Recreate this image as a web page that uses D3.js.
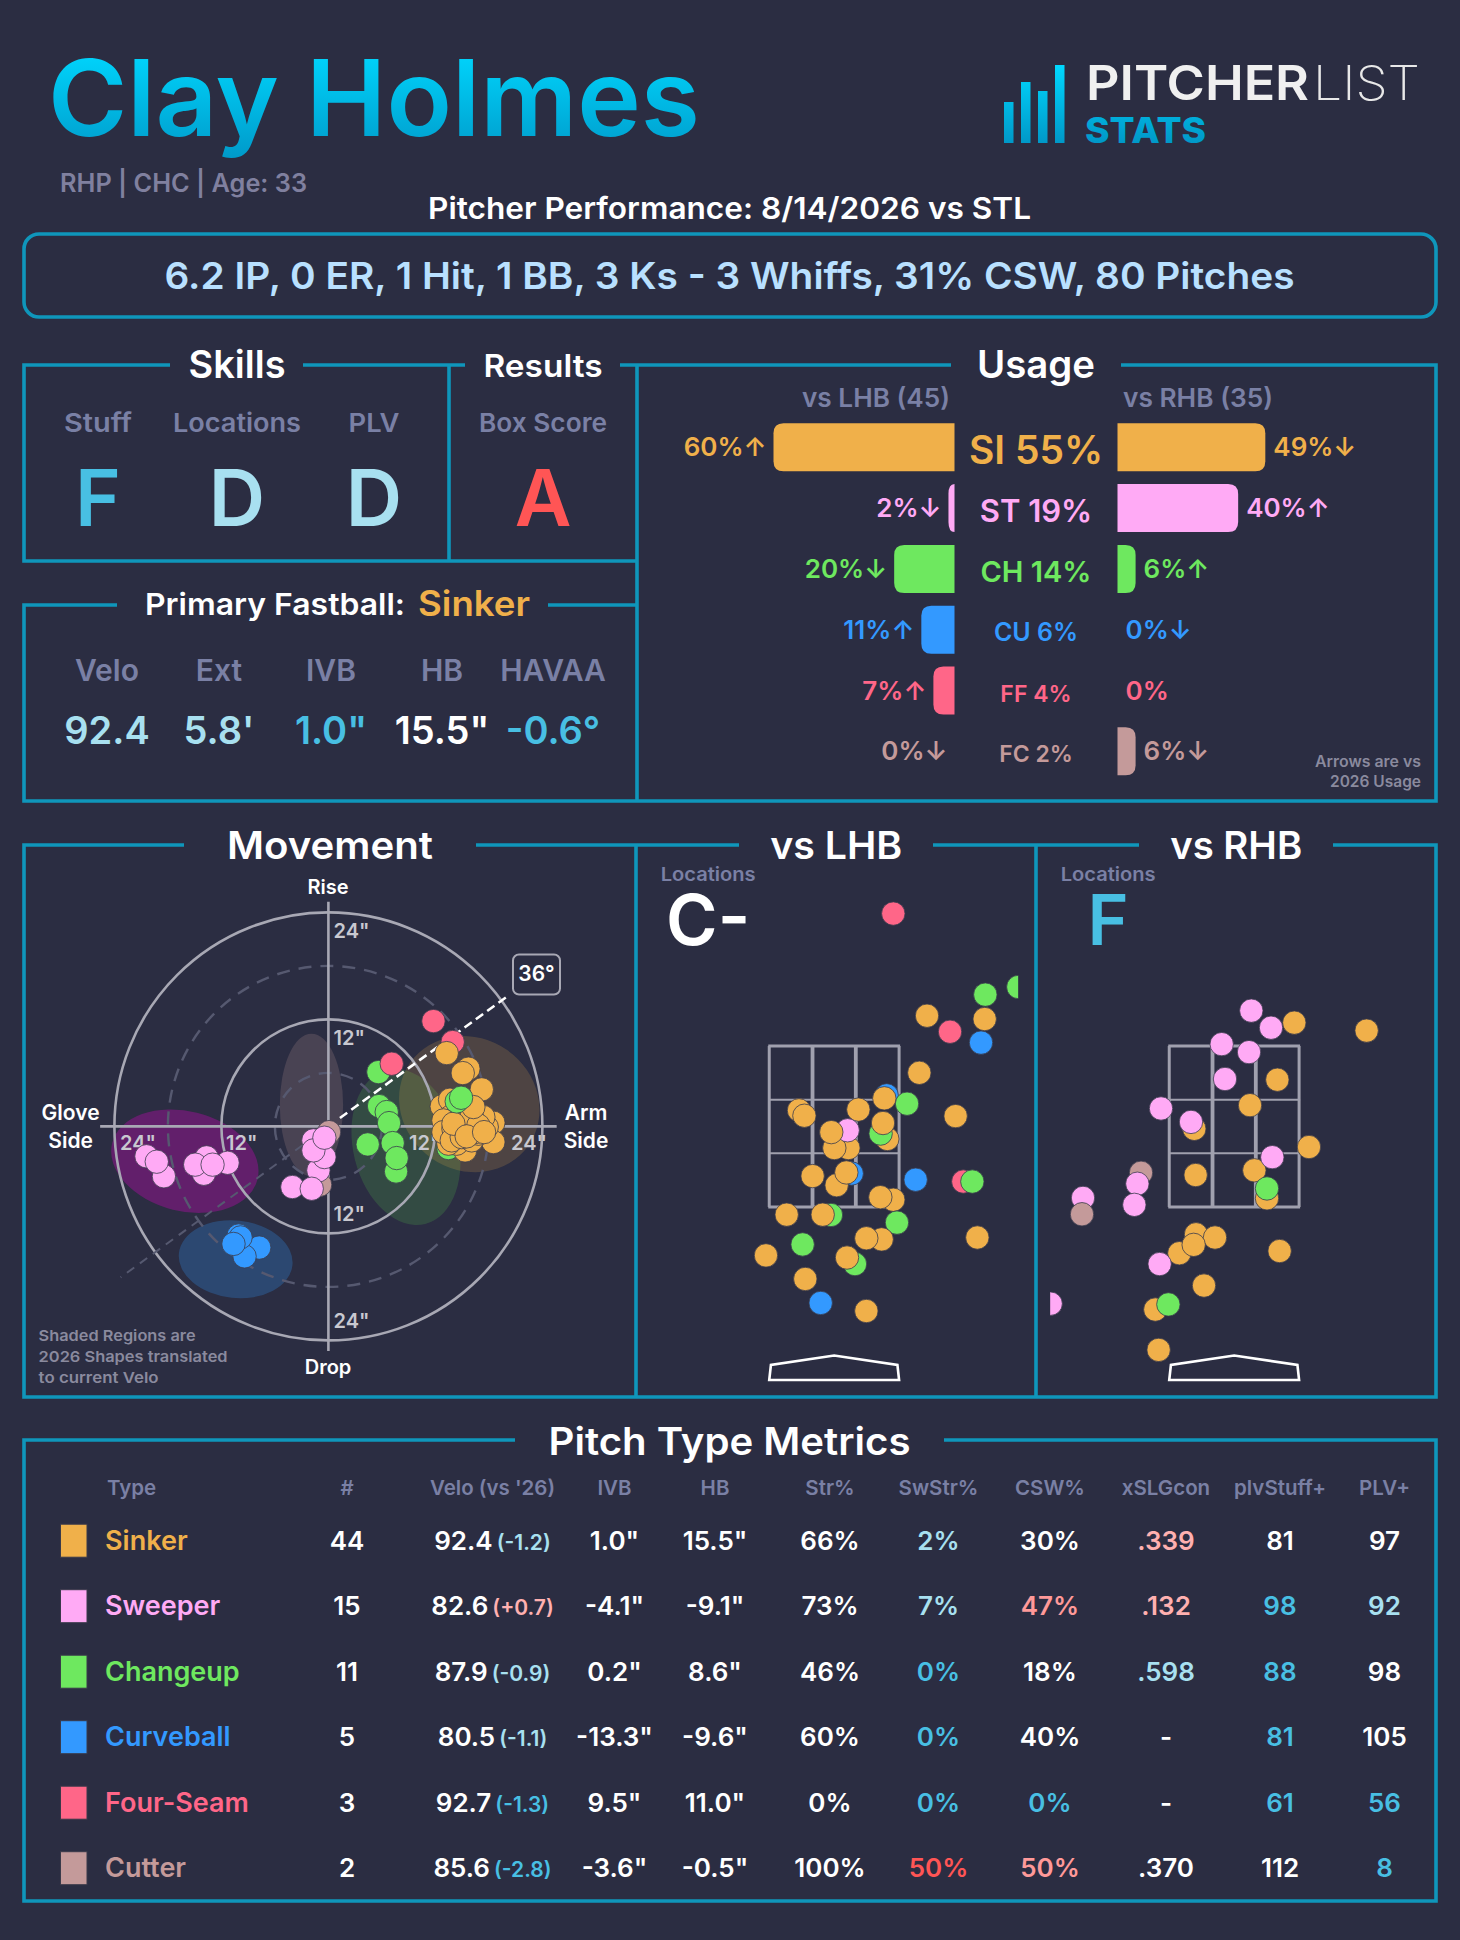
<!DOCTYPE html>
<html><head><meta charset="utf-8">
<script src="https://cdn.jsdelivr.net/npm/d3@7"></script>
<style>html,body{margin:0;padding:0;background:#2b2d42}svg{display:block}text{font-family:Inter,"Noto Sans",sans-serif}</style>
</head><body><div id="c"></div>
<script>
// ---------- data ----------
const pitchCodes=['SI','ST','CH','CU','FF','FC'];
const pitchNames=['Sinker','Sweeper','Changeup','Curveball','Four-Seam','Cutter'];
const usageAll=[55,19,14,6,4,2];
const usageL=[60,2,20,11,7,0];
const usageR=[49,40,6,0,0,6];
const arrowsL=['↑','↓','↓','↑','↑','↓'];
const arrowsR=['↓','↑','↑','↓','','↓'];
const gradeLabels=['Stuff','Locations','PLV','Box Score'];
const gradeValues=['F','D','D','A'];
const fbLabels=['Velo','Ext','IVB','HB','HAVAA'];
const fbValues=['92.4',"5.8'",'1.0"','15.5"','-0.6°'];
const armAngle=36;
// movement: [type, HB in, IVB in], draw order
const movePts=[
['FF',13.94,9.46],['FF',11.78,11.81],['CH',13.46,-2.43],
['SI',13.27,8.22],['SI',15.70,6.47],['SI',15.07,5.98],['SI',17.20,4.15],['SI',12.71,2.24],['SI',13.64,2.99],
['SI',18.50,.41],['SI',18.50,-1.76],['SI',15.33,-2.69],['SI',13.27,-1.20],['SI',13.64,-.82],['SI',14.39,-1.38],
['SI',16.45,.67],['SI',17.01,1.23],['SI',14.77,-.07],['SI',15.89,.30],['SI',15.14,-.26],['SI',13.08,-.07],
['SI',13.64,1.05],['SI',13.46,.11],['SI',14.39,1.05],['SI',17.76,-.07],['SI',12.90,.67],['SI',14.39,-1.94],
['SI',16.07,-1.57],['SI',16.82,-.82],['SI',15.14,1.42],['SI',13.46,-1.94],['SI',17.38,1.05],['SI',12.90,-.64],
['SI',14.02,-.26],['SI',14.77,-.64],['SI',16.45,-.64],['SI',15.51,.49],['SI',16.07,1.23],['SI',13.83,-1.57],
['SI',14.95,-1.20],['SI',14.02,.30],['SI',16.82,.11],['SI',16.26,2.17],['SI',15.51,-1.12],['SI',17.46,-.64],
['CH',5.61,6.09],['FF',7.10,7.03],['CH',5.68,2.28],['CH',6.54,1.61],['CH',6.80,.37],['CH',4.41,-2.02],['CH',7.21,-1.87],
['CH',7.59,-5.05],['CH',7.66,-3.55],['CH',14.39,2.80],['CH',14.88,3.21],
['FC',.07,-.64],['FC',-.93,-6.54],
['ST',-1.12,-4.93],['ST',-.45,-3.44],['ST',-1.68,-1.57],['ST',-1.68,-2.69],['ST',-.45,-1.27],['ST',-4.04,-6.80],['ST',-1.87,-6.99],
['ST',-20.4,-3.35],['ST',-18.45,-5.59],['ST',-19.25,-3.96],['ST',-13.66,-3.47],['ST',-13.97,-5.31],['ST',-11.31,-4.08],['ST',-14.94,-4.29],['ST',-12.99,-4.29],
['CU',-7.76,-13.59],['CU',-9.40,-14.57],['CU',-10.07,-12.24],['CU',-9.85,-12.45],['CU',-10.64,-13.18]
];
// 2026 shapes: [type, HB, IVB, x semi-axis, y semi-axis, tilt deg]
const shapes=[
['FC',-1.9,2.4,3.55,8.0,0],
['ST',-16.1,-3.9,8.4,5.6,14],
['CU',-10.4,-14.9,6.4,4.35,6],
['CH',8.7,-2.3,5.9,8.9,-14],
['SI',15.8,2.5,8.1,7.4,35]
];
// locations: [type, plate x ft, plate z ft], draw order
const lhbPts=[
['FF',.645,5.145],['FF',1.264,3.677],['FF',1.409,1.816],
['CH',2.009,4.233],['CH',1.649,4.138],['CU',1.602,3.542],['CU',.573,2.887],['CH',.795,2.783],
['SI',1.013,3.876],['SI',1.642,3.835],['SI',.929,3.167],['SI',.547,2.850],['SI',-.384,2.701],['SI',-.325,2.634],['SI',.264,2.710],['SI',1.325,2.629],
['SI',.580,2.345],['CH',.507,2.412],['SI',.533,2.543],['SI',.155,2.232],['SI',.002,2.232],['ST',.147,2.453],['SI',-.031,2.430],
['CU',.191,1.916],['CU',.889,1.839],['CH',1.507,1.816],['SI',-.235,1.884],['SI',.027,1.771],['SI',.133,1.929],['SI',.645,1.590],['SI',.504,1.622],
['CH',-.035,1.401],['CH',.685,1.306],['CH',-.344,1.035],['CH',.227,.791],['CU',-.147,.308],
['SI',-.518,1.405],['SI',-.125,1.405],['SI',.518,1.098],['SI',.351,1.112],['SI',1.562,1.121],['SI',-.744,.899],['SI',.140,.872],['SI',-.315,.606],['SI',.351,.208]
];
const rhbPts=[
['SI',.656,3.790],['SI',1.445,3.691],['SI',.471,3.081],['SI',.173,2.765],['SI',-.435,2.471],['SI',.816,2.245],['SI',-.420,1.897],['SI',.220,1.956],['SI',.358,1.608],
['SI',-.416,1.161],['SI',-.209,1.121],['SI',-.598,.926],['SI',-.442,1.030],['SI',.496,.953],['SI',-.329,.524],['SI',-.860,.226],['SI',-.824,-.275],
['FC',-1.016,1.925],
['ST',.187,3.939],['ST',.402,3.727],['ST',-.136,3.523],['ST',.162,3.424],['ST',-.100,3.090],['ST',-.798,2.724],['ST',-.471,2.557],['ST',.416,2.119],['ST',-1.056,1.789],['ST',-1.089,1.527],['ST',-1.649,1.613],['ST',-.813,.791],['ST',-2.002,.299],
['FC',-1.660,1.410],['CH',.358,1.730],['CH',-.718,.290]
];
// table
const tableHeads=['Type','#',"Velo (vs '26)",'IVB','HB','Str%','SwStr%','CSW%','xSLGcon','plvStuff+','PLV+'];
const counts=[44,15,11,5,3,2];
const velo=['92.4','82.6','87.9','80.5','92.7','85.6'];
const veloDiff=['-1.2','+0.7','-0.9','-1.1','-1.3','-2.8'];
const ivb=['1.0"','-4.1"','0.2"','-13.3"','9.5"','-3.6"'];
const hb=['15.5"','-9.1"','8.6"','-9.6"','11.0"','-0.5"'];
const strPct=['66%','73%','46%','60%','0%','100%'];
const swStr=['2%','7%','0%','0%','0%','50%'];
const csw=['30%','47%','18%','40%','0%','50%'];
const xslg=['.339','.132','.598','-','-','.370'];
const stuffPlus=[81,98,88,81,61,112];
const plvPlus=[97,92,98,105,56,8];
// rating tiers for table text: 0 neutral, 1 light, 2 blue, 3 soft pink, 4 salmon, 5 red
const veloTier=[1,3,1,1,2,2];
const swTier=[1,1,2,2,2,5];
const cswTier=[0,4,0,0,2,4];
const xslgTier=[3,3,1,0,0,0];
const stuffTier=[0,2,2,2,2,0];
const plvTier=[0,1,0,0,2,2];

// ---------- styles ----------
const BG='#2b2d42',LINE='#0f96bb',GREY='#7a80a5';
const col={SI:'#f0b04a',ST:'#ffaaf5',CH:'#6ee85f',CU:'#3399ff',FF:'#ff6688',FC:'#c49a9a'};
const tier=['#ffffff','#a8e0f0','#48bfe3','#ffb0b0','#ff9999','#ff5555'];
const shapeFill={SI:['#f0b04a',.18],CH:['#5fe050',.17],ST:['#991294',.5],CU:['#2f9bff',.25],FC:['#c49a9a',.2]};

const svg=d3.select('#c').append('svg').attr('width',1460).attr('height',1940);
svg.append('rect').attr('width',1460).attr('height',1940).attr('fill',BG);
const defs=svg.append('defs');
const g1=defs.append('linearGradient').attr('id','gTitle').attr('x1',0).attr('y1',0).attr('x2',0).attr('y2',1);
g1.append('stop').attr('offset','10%').attr('stop-color','#00d8ff');
g1.append('stop').attr('offset','100%').attr('stop-color','#0098c8');
const g2=defs.append('linearGradient').attr('id','gLogo').attr('gradientUnits','userSpaceOnUse').attr('x1',0).attr('y1',65).attr('x2',0).attr('y2',143);
g2.append('stop').attr('offset','0%').attr('stop-color','#00d8ff');
g2.append('stop').attr('offset','100%').attr('stop-color','#0098c8');

function T(x,y,s,o={}){
  const t=(o.p||svg).append('text').attr('x',x).attr('y',y).text(s)
   .attr('font-size',o.size||20).attr('font-weight',o.weight||600).attr('fill',o.fill||'#fff')
   .attr('text-anchor',o.anchor||'middle');
  if(o.w) t.attr('textLength',o.w).attr('lengthAdjust','spacingAndGlyphs');
  return t;
}
function L(d,w){svg.append('path').attr('d',d).attr('fill','none').attr('stroke',LINE).attr('stroke-width',w||3.6);}

// ---------- header ----------
T(48,136,'Clay Holmes',{size:106,weight:600,fill:'url(#gTitle)',anchor:'start',w:652});
T(60,192,'RHP | CHC | Age: 33',{size:25,fill:'#80809f',anchor:'start',w:247});
T(729.5,219,'Pitcher Performance: 8/14/2026 vs STL',{size:30,w:603});
svg.append('rect').attr('x',24).attr('y',234).attr('width',1412).attr('height',83).attr('rx',15).attr('fill','none').attr('stroke',LINE).attr('stroke-width',3.6);
T(729.5,289,'6.2 IP, 0 ER, 1 Hit, 1 BB, 3 Ks - 3 Whiffs, 31% CSW, 80 Pitches',{size:37,fill:'#b9e0ff',w:1130});
// logo
const logoBars=[41,61,52,78];
const logoX=d3.scalePoint().domain(d3.range(4)).range([1004,1055]);
const logoY=d3.scaleLinear().domain([0,78]).range([143,65]);
logoBars.forEach((v,i)=>svg.append('rect').attr('x',logoX(i)).attr('y',logoY(v)).attr('width',9.5).attr('height',143-logoY(v)).attr('fill','url(#gLogo)'));
T(1086,100,'PITCHER',{size:48,weight:600,fill:'#f0f0f0',anchor:'start',w:223});
T(1313,100,'LIST',{size:48,weight:200,fill:'#e8e8e8',anchor:'start',w:107});
T(1085,143,'STATS',{size:36,weight:800,fill:'url(#gLogo)',anchor:'start',w:121});

// ---------- panel frames ----------
L('M170,365H24V561H637');L('M449,365V561');L('M303,365H465');L('M620,365H951');L('M1121,365H1436V801H24V605H117');L('M548,605H637');L('M637,365V801');
L('M184,845H24V1397H1436V845H1333');L('M476,845H739');L('M933,845H1139');L('M636,845V1397');L('M1036,845V1397');
L('M515,1440H24V1901H1436V1440H944');

// ---------- skills ----------
T(237,378,'Skills',{size:38,w:97});
T(543,377,'Results',{size:31,w:119});
T(1036,378,'Usage',{size:38,w:118});
const gradeX=[98,237,374,543];
const gradeCol=['#48bfe3','#a8e0f0','#a8e0f0','#ff5555'];
const gradeW=[68,128,51,128];
gradeLabels.forEach((s,i)=>{T(gradeX[i],432,s,{size:26,fill:GREY,w:gradeW[i]});T(gradeX[i],526,gradeValues[i],{size:78,fill:gradeCol[i]});});
// primary fastball
T(145,615,'Primary Fastball:',{size:30,anchor:'start',w:260});
T(418,616,'Sinker',{size:35,fill:col.SI,anchor:'start',w:112});
const fbX=[107,219,331,442,553];
const fbCol=['#a8e0f0','#a8e0f0','#48bfe3','#ffffff','#48bfe3'];
fbLabels.forEach((s,i)=>{T(fbX[i],681,s,{size:30,fill:GREY});T(fbX[i],744,fbValues[i],{size:38,fill:fbCol[i]});});

// ---------- usage ----------
T(950,407,'vs LHB (45)',{size:26,fill:GREY,anchor:'end',w:148});
T(1123,407,'vs RHB (35)',{size:26,fill:GREY,anchor:'start',w:150});
const barW=d3.scaleLinear().domain([0,60]).range([0,181]);
const barY=d3.scalePoint().domain(pitchCodes).range([423.3,727.3]);
const midSize=[39,31,29,25,23,23],midBase=[464,522,582,641,702,762];
function bar(x0,w,y,h,dir){
  if(w<=0)return '';const r=Math.min(10,w);
  const p=d3.path();
  p.moveTo(x0,y);p.lineTo(x0+dir*(w-r),y);
  p.quadraticCurveTo(x0+dir*w,y,x0+dir*w,y+10);
  p.lineTo(x0+dir*w,y+h-10);
  p.quadraticCurveTo(x0+dir*w,y+h,x0+dir*(w-r),y+h);
  p.lineTo(x0,y+h);p.closePath();return p.toString();
}
pitchCodes.forEach((c,i)=>{
  const y=barY(c),wL=barW(usageL[i]),wR=barW(usageR[i]);
  if(wL>0)svg.append('path').attr('d',bar(954.5,wL,y,48,-1)).attr('fill',col[c]);
  if(wR>0)svg.append('path').attr('d',bar(1117.5,wR,y,48,1)).attr('fill',col[c]);
  T(1036,midBase[i],c+' '+usageAll[i]+'%',{size:midSize[i],fill:col[c]});
  T(954.5-wL-7,y+33,usageL[i]+'%'+arrowsL[i],{size:26,fill:col[c],anchor:'end'});
  T(1117.5+wR+8,y+33,usageR[i]+'%'+arrowsR[i],{size:26,fill:col[c],anchor:'start'});
});
T(1421,767,'Arrows are vs',{size:15.5,fill:'#8a8a9e',anchor:'end',w:106});
T(1421,787,'2026 Usage',{size:15.5,fill:'#8a8a9e',anchor:'end',w:91});

// ---------- movement ----------
T(330,859,'Movement',{size:38,w:206});
const mx=d3.scaleLinear().domain([-24,24]).range([328.4-214,328.4+214]);
const my=d3.scaleLinear().domain([-24,24]).range([1126.4+214,1126.4-214]);
const inch=v=>Math.abs(mx(v)-mx(0));
const mv=svg.append('g');
shapes.forEach(s=>{
  const f=shapeFill[s[0]];
  mv.append('ellipse').attr('cx',mx(s[1])).attr('cy',my(s[2])).attr('rx',inch(s[3])).attr('ry',inch(s[4]))
   .attr('fill',f[0]).attr('fill-opacity',f[1]).attr('transform',`rotate(${s[5]} ${mx(s[1])} ${my(s[2])})`);
});
[6,18].forEach(r=>mv.append('circle').attr('cx',mx(0)).attr('cy',my(0)).attr('r',inch(r)).attr('fill','none').attr('stroke','#565970').attr('stroke-width',2.4).attr('stroke-dasharray','13 9'));
[12,24].forEach(r=>mv.append('circle').attr('cx',mx(0)).attr('cy',my(0)).attr('r',inch(r)).attr('fill','none').attr('stroke','#a8a8b4').attr('stroke-width',2.6));
mv.append('line').attr('x1',mx(-25.6)).attr('x2',mx(25.6)).attr('y1',my(0)).attr('y2',my(0)).attr('stroke','#a8a8b4').attr('stroke-width',2.6);
mv.append('line').attr('x1',mx(0)).attr('x2',mx(0)).attr('y1',my(25.2)).attr('y2',my(-25.2)).attr('stroke','#a8a8b4').attr('stroke-width',2.6);
const rad=armAngle*Math.PI/180;
mv.append('line').attr('x1',mx(0)).attr('y1',my(0)).attr('x2',mx(-28.8*Math.cos(rad))).attr('y2',my(-28.8*Math.sin(rad))).attr('stroke','#565970').attr('stroke-width',2).attr('stroke-dasharray','9 7');
mv.append('line').attr('x1',mx(1.6*Math.cos(rad))).attr('y1',my(1.6*Math.sin(rad))).attr('x2',mx(24.6*Math.cos(rad))).attr('y2',my(24.6*Math.sin(rad))).attr('stroke','#fff').attr('stroke-width',2.6).attr('stroke-dasharray','9 5');
const ringLab=[[333.6,938,'24"'],[333.6,1045,'12"'],[333.6,1221,'12"'],[333.6,1327.5,'24"'],[120,1150,'24"'],[226,1150,'12"'],[409,1150,'12"'],[511,1150,'24"']];
ringLab.forEach(r=>T(r[0],r[1],r[2],{p:mv,size:20,fill:'#c8c8d0',anchor:'start'}));
mv.selectAll('circle.d').data(movePts).join('circle').attr('class','d')
 .attr('cx',d=>mx(d[1])).attr('cy',d=>my(d[2])).attr('r',11.7)
 .attr('fill',d=>col[d[0]]).attr('stroke','#3a3b4c').attr('stroke-width',.8);
svg.append('rect').attr('x',513).attr('y',954.5).attr('width',47).attr('height',40).attr('rx',6).attr('fill',BG).attr('stroke','#a8a8b4').attr('stroke-width',2);
T(536.5,981,armAngle+'°',{size:21,weight:600});
T(328,893.6,'Rise',{size:20});T(328,1373.6,'Drop',{size:20});
T(70.6,1120,'Glove',{size:21});T(70.6,1148,'Side',{size:21});
T(586,1120,'Arm',{size:21});T(586,1148,'Side',{size:21});
T(38.6,1341,'Shaded Regions are',{size:15,fill:'#8a8a9e',anchor:'start',w:157});
T(38.6,1361.5,'2026 Shapes translated',{size:15,fill:'#8a8a9e',anchor:'start',w:189});
T(38.6,1382.5,'to current Velo',{size:15,fill:'#8a8a9e',anchor:'start',w:120});

// ---------- location plots ----------
function loc(cx,pts,title,grade,gradeFill,id){
  T(cx+2,859,title,{size:38,w:132});
  T(cx-126,881,'Locations',{size:19,fill:GREY,w:95});
  T(cx-126,944.5,grade,{size:70,fill:gradeFill});
  const x=d3.scaleLinear().domain([-1,1]).range([cx-91.67,cx+91.67]);
  const y=d3.scaleLinear().domain([1.5,3.5]).range([1207,1046]);
  const g=svg.append('g');
  const zx=[-.7083,-.2361,.2361,.7083],zz=[1.5,2.167,2.833,3.5];
  zx.forEach((v,i)=>g.append('line').attr('x1',x(v)).attr('x2',x(v)).attr('y1',y(1.5)).attr('y2',y(3.5)).attr('stroke','#a0a0ae').attr('stroke-width',(i==0||i==3)?3:3.8));
  zz.forEach((v,i)=>g.append('line').attr('x1',x(-.7083)-1).attr('x2',x(.7083)+1).attr('y1',y(v)).attr('y2',y(v)).attr('stroke','#a0a0ae').attr('stroke-width',(i==0||i==3)?3:2));
  const plate=[[-.7083,1380],[-.69,1365],[0,1355.5],[.69,1365],[.7083,1380]];
  g.append('path').attr('d',d3.line().x(d=>x(d[0])).y(d=>d[1]).curve(d3.curveLinearClosed)(plate)).attr('fill','none').attr('stroke','#fff').attr('stroke-width',2.6);
  defs.append('clipPath').attr('id',id).append('rect').attr('x',cx-184).attr('y',850).attr('width',368).attr('height',540);
  g.append('g').attr('clip-path',`url(#${id})`).selectAll('circle').data(pts).join('circle')
   .attr('cx',d=>x(d[1])).attr('cy',d=>y(d[2])).attr('r',11.7)
   .attr('fill',d=>col[d[0]]).attr('stroke','#3a3b4c').attr('stroke-width',.8);
}
loc(834.17,lhbPts,'vs LHB','C-','#ffffff','cl');
loc(1234.17,rhbPts,'vs RHB','F','#48bfe3','cr');

// ---------- table ----------
T(729.5,1455,'Pitch Type Metrics',{size:38,w:362});
const colX=[107,347,492.5,614.5,715,830,938.5,1050,1166,1280,1384.5];
tableHeads.forEach((h,i)=>T(colX[i],1495,h,{size:20.5,fill:GREY,anchor:i==0?'start':'middle'}));
const rowY=d3.scalePoint().domain(pitchCodes).range([1540.7,1868.2]);
pitchCodes.forEach((c,i)=>{
  const y=rowY(c),b=y+9;
  svg.append('rect').attr('x',60.5).attr('y',y-16.5).attr('width',26.5).attr('height',33).attr('fill',col[c]).attr('stroke','#3a3a4a').attr('stroke-width',1);
  T(105,b,pitchNames[i],{size:27,fill:col[c],anchor:'start'});
  T(colX[1],b,counts[i],{size:26});
  const v=T(colX[2],b,'',{size:26});
  v.append('tspan').text(velo[i]);
  v.append('tspan').text('('+veloDiff[i]+')').attr('font-size',21).attr('dx',4).attr('fill',tier[veloTier[i]]);
  T(colX[3],b,ivb[i],{size:26});
  T(colX[4],b,hb[i],{size:26});
  T(colX[5],b,strPct[i],{size:26});
  T(colX[6],b,swStr[i],{size:26,fill:tier[swTier[i]]});
  T(colX[7],b,csw[i],{size:26,fill:tier[cswTier[i]]});
  T(colX[8],b,xslg[i],{size:26,fill:tier[xslgTier[i]]});
  T(colX[9],b,stuffPlus[i],{size:26,fill:tier[stuffTier[i]]});
  T(colX[10],b,plvPlus[i],{size:26,fill:tier[plvTier[i]]});
});
</script></body></html>
